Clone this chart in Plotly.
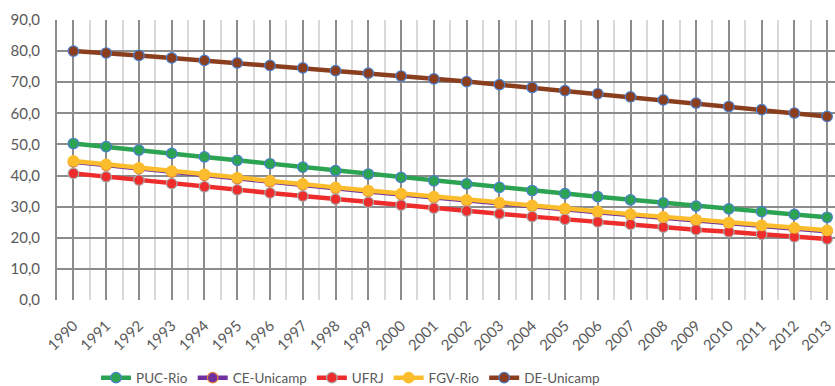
import plotly.graph_objects as go

years = [str(y) for y in range(1990, 2014)]
puc_rio = [50.3, 49.3, 48.2, 47.1, 46.0, 44.9, 43.8, 42.7, 41.6, 40.5, 39.4, 38.3,
           37.3, 36.2, 35.2, 34.2, 33.2, 32.2, 31.2, 30.2, 29.3, 28.4, 27.5, 26.6]
ce_unicamp = [44.4, 43.3, 42.2, 41.1, 40.1, 39.0, 38.0, 37.0, 35.9, 34.9, 33.9, 32.9,
              31.9, 31.0, 30.1, 29.1, 28.2, 27.3, 26.4, 25.5, 24.6, 23.7, 22.9, 22.1]
ufrj = [40.7, 39.6, 38.5, 37.4, 36.4, 35.4, 34.4, 33.4, 32.4, 31.4, 30.5, 29.5,
        28.6, 27.7, 26.8, 25.9, 25.1, 24.3, 23.4, 22.6, 21.9, 21.1, 20.3, 19.6]
fgv_rio = [44.7, 43.6, 42.5, 41.4, 40.4, 39.3, 38.3, 37.3, 36.2, 35.2, 34.2, 33.2,
           32.2, 31.3, 30.4, 29.4, 28.5, 27.6, 26.7, 25.8, 24.9, 24.0, 23.2, 22.4]
de_unicamp = [80.0, 79.4, 78.6, 77.8, 77.0, 76.2, 75.4, 74.6, 73.7, 72.9, 72.0, 71.1,
              70.2, 69.2, 68.3, 67.3, 66.3, 65.3, 64.3, 63.3, 62.2, 61.2, 60.1, 59.0]
y_ticks = [0, 10, 20, 30, 40, 50, 60, 70, 80, 90]

series = [
    ("PUC-Rio", puc_rio, "#2BA352", "#4A7FD0"),
    ("CE-Unicamp", ce_unicamp, "#7030A0", "#E8803A"),
    ("UFRJ", ufrj, "#EE2C2C", "#A9A9A9"),
    ("FGV-Rio", fgv_rio, "#FBBD2C", "#FBBD2C"),
    ("DE-Unicamp", de_unicamp, "#8A3E1E", "#4A7FD0"),
]

xs = list(range(len(years)))
fig = go.Figure()
for name, vals, col, edge in series:
    fig.add_trace(go.Scatter(
        x=xs, y=vals, name=name, mode="lines+markers",
        line=dict(color=col, width=4.5),
        marker=dict(size=10.5, color=col, line=dict(color=edge, width=1.2)),
    ))

FONT = "Lato, sans-serif"
fig.update_layout(
    width=835, height=386,
    margin=dict(l=57, r=0, t=20, b=86, autoexpand=False),
    paper_bgcolor="white", plot_bgcolor="white",
    font=dict(family=FONT, size=15, color="#595959"),
    separators=",.",
    showlegend=True,
    legend=dict(orientation="h", xref="container", yref="container",
                x=0.115, y=0.021, xanchor="left", yanchor="middle",
                font=dict(size=13.5, color="#595959"), itemwidth=30,
                traceorder="normal"),
    xaxis=dict(
        range=[-0.5, 23.24], tickmode="array", tickvals=xs, ticktext=years,
        tickangle=-45, showgrid=True, gridcolor="#8C8C8C", gridwidth=2,
        minor=dict(tickvals=[i + 0.5 for i in range(-1, 24)], showgrid=True,
                   gridcolor="#D9D9D9", gridwidth=2),
        zeroline=False, showline=False, ticks="outside", ticklen=10,
        tickcolor="rgba(0,0,0,0)", tickfont=dict(size=15),
        automargin=False,
    ),
    yaxis=dict(
        range=[0, 90], tickvals=y_ticks, tickformat=".1f",
        showgrid=True, gridcolor="#8C8C8C", gridwidth=2,
        zeroline=False, showline=True, linecolor="#8C8C8C", linewidth=2,
        ticks="outside", ticklen=12, tickcolor="rgba(0,0,0,0)",
        tickfont=dict(size=15), automargin=False,
    ),
)
fig.write_html("out.html", config={"displayModeBar": False},
               post_script="document.body.style.margin='0';document.body.style.padding='0';")
